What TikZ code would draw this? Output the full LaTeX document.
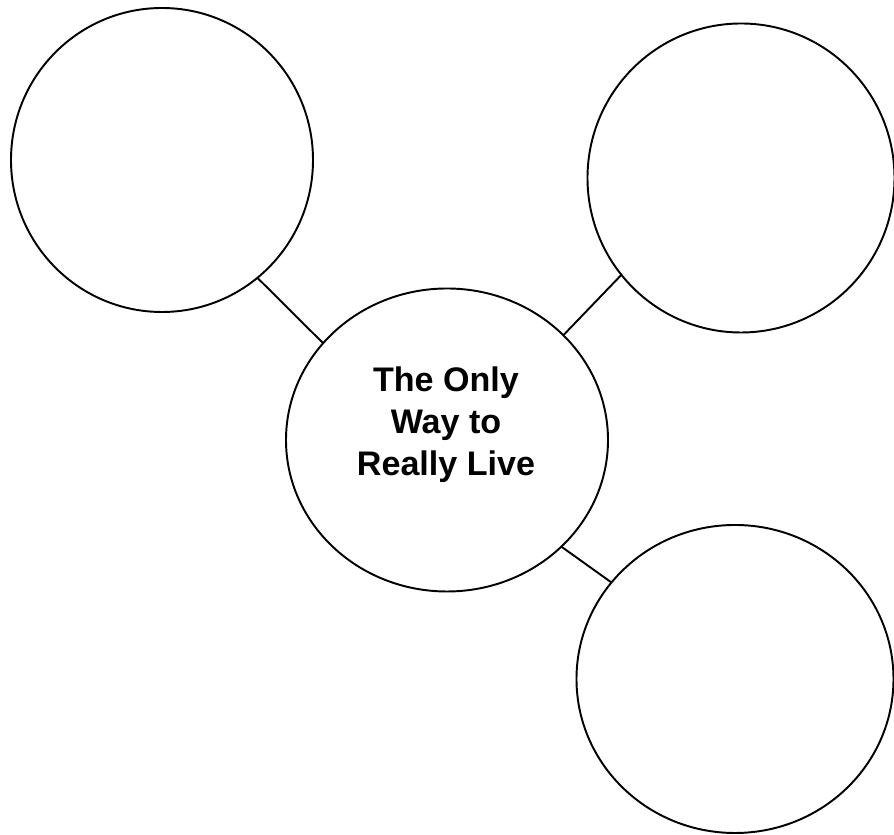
\documentclass[tikz,border=0pt]{standalone}
\usepackage{fontspec}
\setmainfont{Liberation Sans}
\usetikzlibrary{shapes.geometric}

\definecolor{mblk}{RGB}{0, 0, 0}

\tikzset{
	bubble/.style={ellipse, draw=mblk, line width=0.55pt, outer sep=0pt, inner sep=0pt},
	link/.style={draw=mblk, line width=0.55pt},
	hubtext/.style={align=center, inner sep=0pt, font=\fontsize{9.7}{11.9}\selectfont\bfseries}
}

\begin{document}
\begin{tikzpicture}

			\useasboundingbox (0,0) rectangle (8.94,-8.35);

			% --- Centre bubble ---
			\node[bubble, minimum width=3.22cm, minimum height=3.03cm] (hub) at (4.47,-4.40) {};
			\node[hubtext] (hubtitle) at (4.46,-4.25) {The Only\\Way to\\Really Live};

			% --- Outer bubbles ---
			\node[bubble, minimum width=3.02cm, minimum height=3.04cm] (topleft) at (1.62,-1.60) {};
			\node[bubble, minimum width=3.07cm, minimum height=3.09cm] (topright) at (7.41,-1.78) {};
			\node[bubble, minimum width=3.17cm, minimum height=3.08cm] (botright) at (7.35,-6.79) {};

			% links
			\draw[link] (topleft.-51) -- (hub.142);
			\draw[link] (topright.219) -- (hub.42);
			\draw[link] (hub.-43) -- (botright.142);

		\end{tikzpicture}
\end{document}
